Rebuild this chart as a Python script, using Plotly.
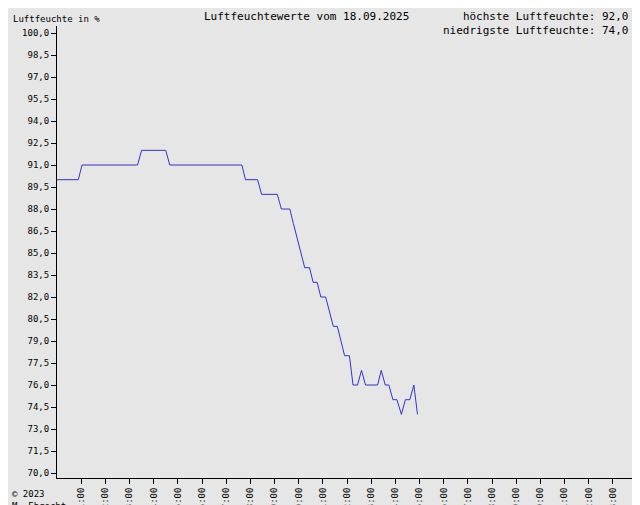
import plotly.graph_objects as go

# readings (time of day, humidity in %)
times = ["00:00", "00:53", "01:02", "03:20", "03:30", "04:30", "04:40", "07:39", "07:48",
         "08:18", "08:28", "09:07", "09:17", "09:38", "09:47", "09:56", "10:05", "10:15",
         "10:27", "10:36", "10:46", "10:55", "11:07", "11:16", "11:26", "11:36", "11:45",
         "11:54", "12:06", "12:11", "12:15", "12:26", "12:36", "12:46", "13:16", "13:25",
         "13:35", "13:44", "13:54", "14:04", "14:15", "14:25", "14:36", "14:46", "14:55"]
humidity = [90, 90, 91, 91, 92, 92, 91, 91, 90,
            90, 89, 89, 88, 88, 87, 86, 85, 84,
            84, 83, 83, 82, 82, 81, 80, 80, 79,
            78, 78, 77, 76, 76, 77, 76, 76, 77,
            76, 76, 75, 75, 74, 75, 75, 76, 74]

hours = [int(t[:2]) + int(t[3:]) / 60 for t in times]

y_ticks = [70 + 1.5 * i for i in range(21)]
y_labels = [f"{v:.1f}".replace(".", ",") for v in y_ticks]
x_ticks = list(range(1, 25))
x_labels = [f"{h:02d}:00" for h in x_ticks]

fig = go.Figure(go.Scatter(x=hours, y=humidity, mode="lines",
                           line=dict(color="#3333cc", width=1), hoverinfo="skip"))

# plot area is 580 x 452 px; paper coords outside it place the corner texts
top = 1 + 18 / 452
bottom = -35 / 452
left = -49 / 580
right = 1 + 11 / 580

mono = "DejaVu Sans Mono"
fig.update_layout(
    width=640, height=505,
    margin=dict(l=49, r=11, t=18, b=35, autoexpand=False),
    paper_bgcolor="#e6e6e6", plot_bgcolor="#e6e6e6",
    font=dict(family=mono, size=10, color="black"),
    showlegend=False,
    xaxis=dict(range=[0, 24], tickvals=x_ticks, ticktext=x_labels, tickangle=-90,
               showgrid=False, zeroline=False, showline=True, linecolor="black",
               ticks="outside", ticklen=5, tickcolor="black", tickfont=dict(size=9),
               automargin=False),
    yaxis=dict(range=[69.66, 100.48], tickvals=y_ticks, ticktext=y_labels,
               showgrid=False, zeroline=False, showline=True, linecolor="black",
               ticks="outside", ticklen=5, tickcolor="black", tickfont=dict(size=9),
               automargin=False),
    annotations=[
        dict(x=left, y=top, xref="paper", yref="paper", xanchor="left", yanchor="top",
             text="Luftfeuchte in %", showarrow=False, font=dict(size=9), xshift=3, yshift=-4),
        dict(x=0.43, y=top, xref="paper", yref="paper", xanchor="center", yanchor="top",
             text="Luftfeuchtewerte vom 18.09.2025", showarrow=False, font=dict(size=11)),
        dict(x=right, y=top, xref="paper", yref="paper", xanchor="right", yanchor="top",
             text="höchste Luftfeuchte: 92,0 %<br>niedrigste Luftfeuchte: 74,0 %",
             align="right", showarrow=False, font=dict(size=11), xshift=-4),
        dict(x=left, y=bottom, xref="paper", yref="paper", xanchor="left", yanchor="bottom",
             text="© 2023<br>M. Ebrecht", align="left", showarrow=False, font=dict(size=9),
             xshift=2),
    ],
)

fig.write_html("out.html")
